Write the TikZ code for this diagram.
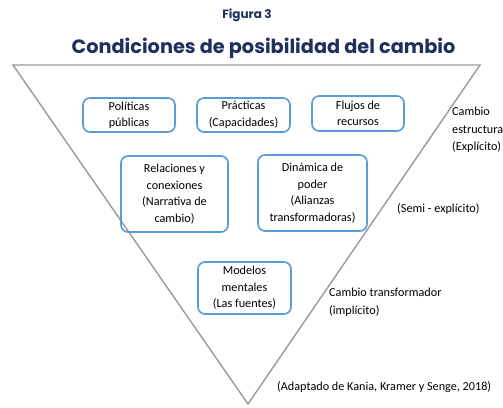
\documentclass[tikz,border=0pt]{standalone}
\usepackage{fontspec}
\setmainfont{Carlito}
\newfontfamily\titlefont{Poppins}
\definecolor{navy}{HTML}{1F2F5E}
\definecolor{boxblue}{HTML}{5B9BD5}
\definecolor{tri}{HTML}{9A9A9A}
\begin{document}
\begin{tikzpicture}[x=1pt,y=-1pt,
  cbox/.style={draw=boxblue, line width=1.6pt, rounded corners=7pt, align=center,
    font=\fontsize{12.2}{16.5}\selectfont, inner sep=0pt, text=black},
  side/.style={anchor=west, align=left, font=\fontsize{12.2}{17.5}\selectfont, inner sep=0pt}]
\useasboundingbox (0,0) rectangle (503,407);
\fill[white] (0,0) rectangle (503,407);
% triangle
\coordinate (tl) at (13,65);
\coordinate (tr) at (480,65);
\coordinate (ap) at (248,404);
\draw[tri, line width=1.4pt, line join=miter] (tl) -- (tr) -- (ap) -- cycle;
% titles
\node[font=\titlefont\bfseries\fontsize{12}{14}\selectfont, text=navy] (fig) at (247,15) {Figura 3};
\node[font=\titlefont\bfseries\fontsize{19.3}{23}\selectfont, text=navy] (title) at (263.5,48) {Condiciones de posibilidad del cambio};
% boxes
\node[cbox, minimum width=92pt, minimum height=34pt] (pol) at (129,115) {Políticas\\públicas};
\node[cbox, minimum width=93pt, minimum height=34pt] (pra) at (243.5,115) {Prácticas\\(Capacidades)};
\node[cbox, minimum width=92pt, minimum height=35pt] (flu) at (358,113.5) {Flujos de\\recursos};
\node[cbox, minimum width=107pt, minimum height=76pt] (rel) at (174.5,194) {Relaciones y\\conexiones\\(Narrativa de\\cambio)};
\node[cbox, minimum width=109pt, minimum height=76pt] (din) at (312.5,193) {Dinámica de\\poder\\(Alianzas\\transformadoras)};
\node[cbox, minimum width=93pt, minimum height=52pt] (mod) at (244.5,288) {Modelos\\mentales\\(Las fuentes)};
% side labels
\node[side] (ce) at (452,130) {Cambio\\estructural\\(Explícito)};
\node[side] (se) at (397,209) {(Semi - explícito)};
\node[side] (ct) at (329,302) {Cambio transformador\\(implícito)};
\node[side] (src) at (277,387) {(Adaptado de Kania, Kramer y Senge, 2018)};
\end{tikzpicture}
\end{document}
